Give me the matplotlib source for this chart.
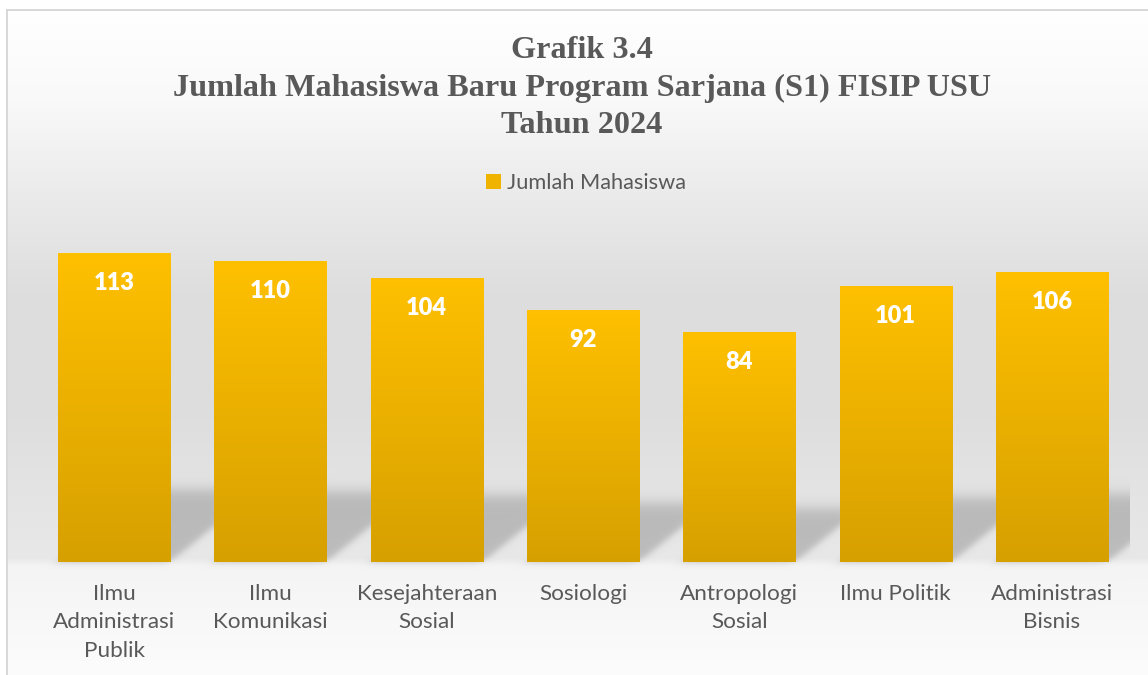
import numpy as np
import matplotlib
matplotlib.use("Agg")
from matplotlib import pyplot as plt
from matplotlib.colors import LinearSegmentedColormap
from matplotlib.patches import Patch

categories = ["Ilmu\nAdministrasi\nPublik", "Ilmu\nKomunikasi", "Kesejahteraan\nSosial",
              "Sosiologi", "Antropologi\nSosial", "Ilmu Politik", "Administrasi\nBisnis"]
values = [113, 110, 104, 92, 84, 101, 106]
series_name = "Jumlah Mahasiswa"
title_lines = ["Grafik 3.4",
               "Jumlah Mahasiswa Baru Program Sarjana (S1) FISIP USU",
               "Tahun 2024"]

W, H, DPI = 1148, 675, 100
text_col = "#595959"
label_font = "Lato"

fig = plt.figure(figsize=(W / DPI, H / DPI), dpi=DPI)
bg = fig.add_axes([0, 0, 1, 1], zorder=0)
bg.set_axis_off()
ax = fig.add_axes([36 / W, 113 / H, 1094 / W, 362 / H], zorder=1)
ax.patch.set_alpha(0)

x = np.arange(len(values))
bars = ax.bar(x, values, width=0.717, color="none", edgecolor="none", zorder=2)
ax.set_xlim(-0.5, len(values) - 0.5)
ax.set_ylim(0, 132.4)

# background: grey vertical gradient of the chart area
rows = np.arange(H) + 0.5
gray = np.interp(rows, [9, 100, 200, 300, 420, 480, 558, 566, 620, 675],
                 [255, 249, 234, 221, 222, 227, 232, 244, 248, 252]) / 255
img = np.ones((H, W, 3)) * gray[:, None, None]

# perspective shadow cast by each bar (derived from the bar geometry)
def sig(z):
    return 1 / (1 + np.exp(-z))

yy, xx = np.mgrid[0:H, 0:W] + 0.5
shade = np.zeros((H, W))
for b in bars:
    (xl, yb), (xr, yt) = ax.transData.transform(
        [[b.get_x(), 0], [b.get_x() + b.get_width(), b.get_height()]])
    base, top = H - yb, H - yt
    sh = 0.235 * (base - top)
    up = base - yy
    s = (sig((xr + 1.23 * up - xx) / 3) * sig((xx - xl - 1.23 * up) / 3)
         * sig((sh - up) / 4) * sig(up / 2))
    shade = np.maximum(shade, s)
right_px = int(ax.transAxes.transform((1, 0))[0])
shade[:, right_px:] = 0
img *= (1 - 0.19 * shade)[..., None]

img[:9, :] = 1
img[:, :6] = 1
img[9:11, 6:] = 0.85
img[9:, 6:8] = 0.85
bg.imshow(img, extent=[0, W, H, 0], aspect="auto", interpolation="nearest")
bg.set_xlim(0, W)
bg.set_ylim(H, 0)

# bars with vertical gold gradient
gold = LinearSegmentedColormap.from_list("gold", ["#D6A000", "#FFC000"])
grad = np.linspace(0, 1, 256)[:, None]
for b in bars:
    im = ax.imshow(grad, extent=[b.get_x(), b.get_x() + b.get_width(), 0, b.get_height()],
                   origin="lower", aspect="auto", cmap=gold, zorder=2)
    im.set_clip_path(b)
ax.set_xlim(-0.5, len(values) - 0.5)
ax.set_ylim(0, 132.4)

for xi, v in zip(x, values):
    ax.annotate(str(v), (xi, v), xytext=(0, -30 * 72 / DPI), textcoords="offset points",
                ha="center", va="center", color="white", fontweight="heavy",
                fontsize=17, family=label_font, zorder=3)

ax.set_xticks(x, categories)
ax.tick_params(axis="x", length=0, pad=15.5, colors=text_col, labelsize=16.2)
for lbl in ax.get_xticklabels():
    lbl.set_family(label_font)
    lbl.set_linespacing(1.55)
ax.set_yticks([])
for sp in ax.spines.values():
    sp.set_visible(False)

fig.legend(handles=[Patch(facecolor="#F0B400", edgecolor="none", label=series_name)],
           loc="center", bbox_to_anchor=(586 / W, 1 - 183 / H), frameon=False,
           prop={"family": label_font, "size": 15.7}, labelcolor=text_col,
           handlelength=0.7, handleheight=0.7, handletextpad=0.3)

fig.text(582 / W, 1 - 88 / H, "\n".join(title_lines), ha="center", va="center",
         fontsize=23.2, fontweight="bold", family="Liberation Serif", color=text_col,
         linespacing=1.37)

fig.savefig("out.png", dpi=DPI)
